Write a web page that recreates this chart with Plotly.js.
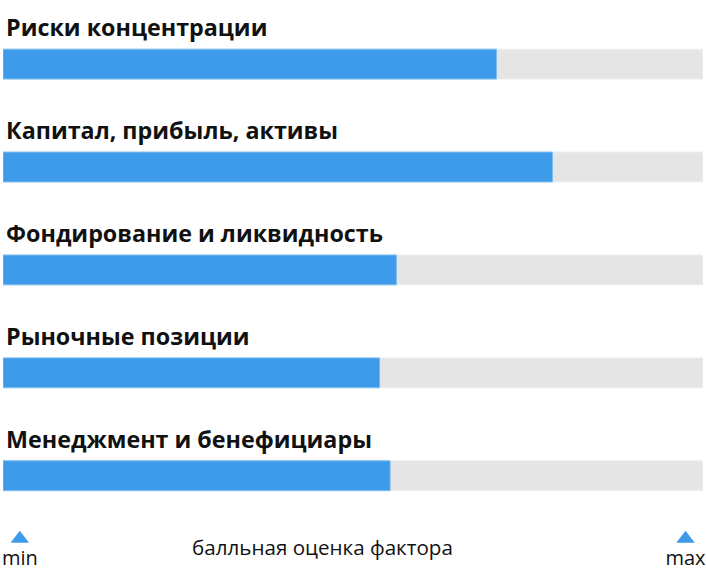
<!DOCTYPE html>
<html>
<head>
<meta charset="utf-8">
<script src="https://cdn.plot.ly/plotly-3.0.1.min.js"></script>
<style>
	html, body { margin: 0; padding: 0; background: #fff; }
	#chart { width: 706px; height: 575px; }
</style>
</head>
<body>
<div id="chart"></div>
<script>
// Оценка факторов
const factors = [
	"Риски концентрации",
	"Капитал, прибыль, активы",
	"Фондирование и ликвидность",
	"Рыночные позиции",
	"Менеджмент и бенефициары",
];
const scores = [0.705, 0.785, 0.562, 0.538, 0.553];
const scaleMax = 1;
const scaleLabels = ["min", "max"];
const scaleTicks = [0.024, 0.975];
const scaleTitle = "балльная оценка фактора";

const blue = "#3d9be9",
	grey = "#e5e5e5";

let data = [
		{
			y: factors,
			x: factors.map(() => scaleMax),
			type: "bar",
			orientation: "h",
			width: 0.29,
			marker: { color: grey, line: { color: "#eeeeee", width: 1 } },
			hoverinfo: "skip",
		},
		{
			y: factors,
			x: scores,
			type: "bar",
			orientation: "h",
			width: 0.29,
			marker: { color: blue, line: { color: "#7dbdf0", width: 1 } },
		},
		{
			x: scaleTicks,
			y: [0.63, 0.63],
			xaxis: "x2",
			yaxis: "y2",
			type: "scatter",
			mode: "markers+text",
			marker: { symbol: "triangle-up", size: 16, color: blue },
			text: scaleLabels,
			textposition: "bottom center",
			textfont: { size: 20, color: "#111", family: "Open Sans, sans-serif" },
			cliponaxis: false,
		},
	],
	layout = {
		width: 706,
		height: 575,
		paper_bgcolor: "#fff",
		plot_bgcolor: "#fff",
		showlegend: false,
		barmode: "overlay",
		margin: { l: 3, r: 3, t: 0, b: 0, pad: 0 },
		xaxis: {
			range: [0, scaleMax],
			showgrid: false,
			zeroline: false,
			showticklabels: false,
			fixedrange: true,
		},
		yaxis: {
			domain: [0.077, 0.978],
			autorange: "reversed",
			showgrid: false,
			zeroline: false,
			showticklabels: false,
			fixedrange: true,
		},
		xaxis2: {
			anchor: "y2",
			range: [0, 1],
			visible: false,
		},
		yaxis2: {
			anchor: "x2",
			domain: [0, 0.1],
			range: [0, 1],
			visible: false,
		},
		annotations: factors
			.map((f) => ({
				x: 0,
				y: f,
				xref: "x",
				yref: "y",
				text: "<b>" + f + "</b>",
				showarrow: false,
				xanchor: "left",
				yanchor: "middle",
				xshift: 1,
				yshift: 37,
				font: { size: 23.3, color: "#111", family: "Open Sans, sans-serif" },
			}))
			.concat([
				{
					x: 0.456,
					y: 0.049,
					xref: "paper",
					yref: "paper",
					text: scaleTitle,
					showarrow: false,
					xanchor: "center",
					yanchor: "middle",
					font: { size: 20.6, color: "#111", family: "Open Sans, sans-serif" },
				},
			]),
		font: { family: "Open Sans, sans-serif", color: "#111" },
	};

Plotly.newPlot("chart", data, layout, { displayModeBar: false, staticPlot: true });
</script>
</body>
</html>
